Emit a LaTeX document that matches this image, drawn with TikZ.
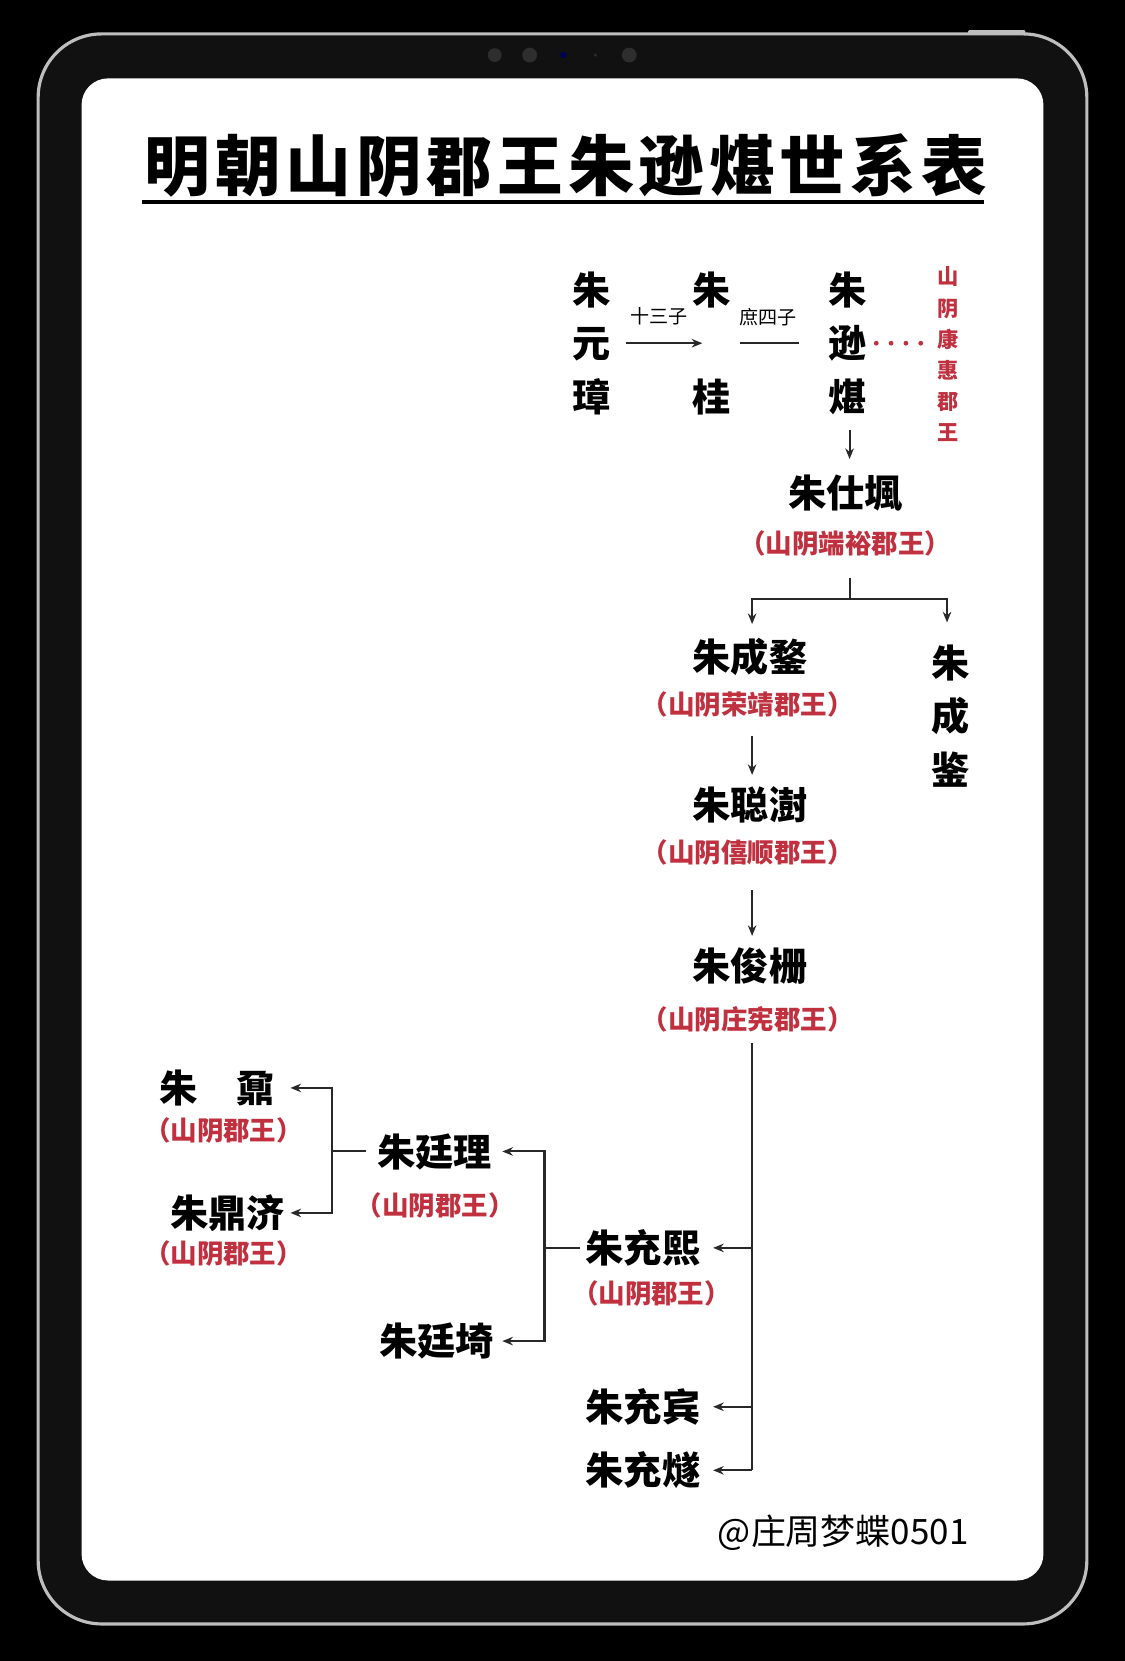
\documentclass[tikz,border=0pt]{standalone}
\usepackage{fontspec}
\usetikzlibrary{arrows.meta}
\newfontfamily\cjkf{Noto Sans CJK SC}
\newfontfamily\cjkt{Noto Sans CJK SC}[LetterSpace=7.5]
\definecolor{redc}{RGB}{192,48,62}
\definecolor{linec}{RGB}{40,40,40}
\definecolor{framec}{RGB}{17,17,17}
\definecolor{rimc}{RGB}{190,190,190}
\tikzset{
  nm/.style={font=\cjkf\bfseries\fontsize{36}{50.5}\selectfont, inner sep=0pt, align=center, text=black},
  rl/.style={font=\cjkf\bfseries\fontsize{25}{28}\selectfont, inner sep=0pt, text=redc},
  rv/.style={font=\cjkf\bfseries\fontsize{20}{29.4}\selectfont, inner sep=0pt, align=center, text=redc},
  sm/.style={font=\cjkf\fontsize{18}{20}\selectfont, inner sep=0pt},
  ln/.style={draw=linec, line width=1.9pt},
  arr/.style={draw=linec, line width=1.9pt, -{Stealth[length=10pt,width=8pt]}},
  cam/.style={fill=black!82},
}
\begin{document}
\begin{tikzpicture}[x=1pt,y=-1pt]
\useasboundingbox (0,0) rectangle (1062,1568);
\fill[black] (0,0) rectangle (1062,1568);
% tablet
\draw[draw=rimc, line width=3pt, fill=framec, rounded corners=60pt] (36,32) rectangle (1026,1533);
\fill[rimc, rounded corners=1pt] (914,28.5) rectangle (968,33);
\fill[white, rounded corners=25pt] (77,74) rectangle (985,1492);
\fill[cam] (467,52) circle (6.5);
\fill[cam] (500,52) circle (7);
\fill[blue!35!black] (532,52) circle (3);
\fill[cam] (562,52) circle (1.5);
\fill[cam] (594,52) circle (7);
% title
\node[font=\cjkt\bfseries\fontsize{62}{70}\selectfont, inner sep=0pt] (title) at (534,156) {明朝山阴郡王朱逊煁世系表};
\draw[line width=3.5pt] (134,191) -- (929,191);
% top row
\node[nm] (yzz) at (558,324) {朱\\元\\璋};
\node[nm] (zg) at (672,324) {朱\\[50.5pt]桂};
\node[nm] (zxc) at (800,324) {朱\\逊\\煁};
\node[sm] (l1) at (622,299) {十三子};
\node[sm] (l2) at (725,299) {庶四子};
\node[rv] (kh) at (895,334.5) {山\\阴\\康\\惠\\郡\\王};
\draw[arr, shorten <=15pt, shorten >=9pt] (yzz.east) -- (zg.center);
\draw[ln, shorten <=27pt, shorten >=28pt] (zg.center) -- (zxc.west);
\draw[draw=redc, line width=4.5pt, dash pattern=on 0pt off 14pt, line cap=round, shorten <=9pt, shorten >=12pt] (zxc.east) -- (zxc.east -| kh.west);
% middle column
\node[nm] (stx) at (798,466) {朱仕堸};
\node[rl] (dy) at (798,513) {（山阴端裕郡王）};
\draw[arr, shorten <=14pt, shorten >=15pt] (zxc.south -| 802,0) -- (stx.north -| 802,0);
\node[nm] (ccm) at (708,620) {朱成鍪};
\node[rl] (rj) at (706,665) {（山阴荣靖郡王）};
\node[nm] (ccj) at (897,676) {朱\\成\\鉴};
\coordinate (b1) at (802,565);
\draw[ln, shorten <=20pt] (b1 |- dy.south) -- (b1);
\draw[arr, shorten >=13pt] (b1) -| (ccm.north -| 710,0);
\draw[arr, shorten >=21pt] (b1) -| (ccj.north -| 894,0);
\node[nm] (csh) at (708,760) {朱聪澍};
\node[rl] (xs) at (706,805) {（山阴僖顺郡王）};
\draw[arr, shorten <=17pt, shorten >=11pt] (rj.south -| 710,0) -- (csh.north -| 710,0);
\node[nm] (jz) at (708,912) {朱俊栅};
\node[rl] (zx) at (706,962) {（山阴庄宪郡王）};
\draw[arr, shorten <=23pt, shorten >=11pt] (xs.south -| 710,0) -- (jz.north -| 710,0);
% lower branch
\node[nm] (cx) at (607,1178) {朱充熙};
\node[rl] (cxl) at (615,1221) {（山阴郡王）};
\node[nm] (cb) at (607,1328) {朱充宾};
\node[nm] (cs) at (607,1388) {朱充燧};
\coordinate (t0) at (710,1388);
\draw[ln, shorten <=10pt] (zx.south -| t0) -- (t0);
\draw[arr, shorten >=12pt] (t0 |- cx.east) -- (cx.east);
\draw[arr, shorten >=12pt] (t0 |- cb.east) -- (cb.east);
\draw[arr, shorten >=12pt] (t0) -- (cs.east);
\node[nm] (tl) at (410,1087) {朱廷理};
\node[rl] (tll) at (411,1138) {（山阴郡王）};
\node[nm] (tq) at (412,1266) {朱廷埼};
\coordinate (v2) at (514,1178);
\draw[ln, shorten <=5pt] (cx.west) -- (v2);
\draw[arr, shorten >=10pt] (v2) |- (tl.east);
\draw[arr, shorten >=8pt] (v2) |- (tq.east);
\node[nm] (nai) at (205,1027) {朱　鼐};
\node[rl] (nail) at (211,1067) {（山阴郡王）};
\node[nm] (djj) at (215,1145) {朱鼎济};
\node[rl] (djjl) at (211,1183) {（山阴郡王）};
\coordinate (v1) at (313,1087);
\draw[ln, shorten <=10pt] (tl.west) -- (v1);
\draw[arr, shorten >=15pt] (v1) |- (nai.east);
\draw[arr, shorten >=5pt] (v1) |- (djj.east);
% watermark
\node[font=\cjkf\fontsize{33}{36}\selectfont, inner sep=0pt] (wm) at (796,1447) {@庄周梦蝶0501};
\end{tikzpicture}
\end{document}
